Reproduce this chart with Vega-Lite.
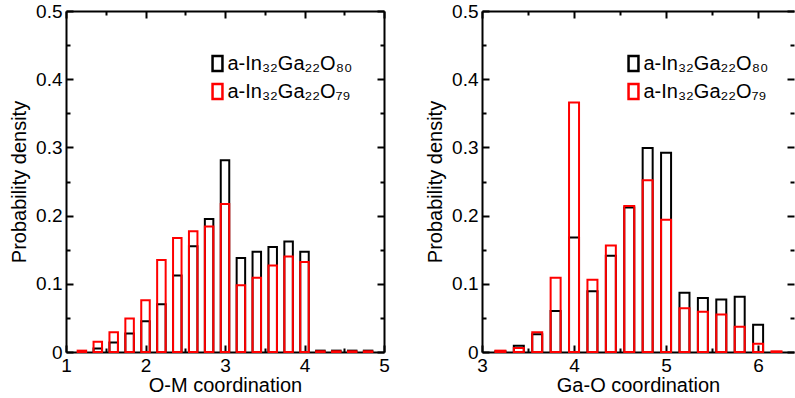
{
  "$schema": "https://vega.github.io/schema/vega-lite/v6.json",
  "padding": {"left": 9, "top": 2, "right": 0, "bottom": 0},
  "background": "white",
  "config": {
    "view": {"stroke": null},
    "font": "Liberation Sans",
    "axis": {"domainColor": "black", "domainWidth": 2, "tickColor": "black", "tickWidth": 2, "labelColor": "black", "titleColor": "black", "labelFontSize": 19, "titleFontSize": 20, "titleFontWeight": "normal", "grid": false, "labelFlush": false, "labelOverlap": false, "labelFont": "Liberation Sans", "titleFont": "Liberation Sans"},
    "legend": {"orient": "none", "legendX": 141.5, "legendY": 42.5, "title": null, "symbolType": "M-0.66,-1L0.66,-1L0.66,1L-0.66,1Z", "symbolSize": 225, "symbolStrokeWidth": 2.5, "symbolFillColor": "transparent", "labelFontSize": 20, "labelColor": "black", "labelFont": "Liberation Sans", "rowPadding": 2, "labelOffset": 0, "padding": 0}
  },
  "spacing": 35,
  "resolve": {"legend": {"stroke": "independent"}},
  "hconcat": [
    {
      "width": 318,
      "height": 341,
      "data": {"values": [
        {"series": "a-In₃₂Ga₂₂O₈₀", "coordination": 1.4, "density": 0.005},
        {"series": "a-In₃₂Ga₂₂O₈₀", "coordination": 1.6, "density": 0.014},
        {"series": "a-In₃₂Ga₂₂O₈₀", "coordination": 1.8, "density": 0.027},
        {"series": "a-In₃₂Ga₂₂O₈₀", "coordination": 2.0, "density": 0.045},
        {"series": "a-In₃₂Ga₂₂O₈₀", "coordination": 2.2, "density": 0.070},
        {"series": "a-In₃₂Ga₂₂O₈₀", "coordination": 2.4, "density": 0.112},
        {"series": "a-In₃₂Ga₂₂O₈₀", "coordination": 2.6, "density": 0.155},
        {"series": "a-In₃₂Ga₂₂O₈₀", "coordination": 2.8, "density": 0.195},
        {"series": "a-In₃₂Ga₂₂O₈₀", "coordination": 3.0, "density": 0.281},
        {"series": "a-In₃₂Ga₂₂O₈₀", "coordination": 3.2, "density": 0.138},
        {"series": "a-In₃₂Ga₂₂O₈₀", "coordination": 3.4, "density": 0.147},
        {"series": "a-In₃₂Ga₂₂O₈₀", "coordination": 3.6, "density": 0.154},
        {"series": "a-In₃₂Ga₂₂O₈₀", "coordination": 3.8, "density": 0.162},
        {"series": "a-In₃₂Ga₂₂O₈₀", "coordination": 4.0, "density": 0.147},
        {"series": "a-In₃₂Ga₂₂O₈₀", "coordination": 4.2, "density": 0.002},
        {"series": "a-In₃₂Ga₂₂O₈₀", "coordination": 4.4, "density": 0.002},
        {"series": "a-In₃₂Ga₂₂O₈₀", "coordination": 4.6, "density": 0.002},
        {"series": "a-In₃₂Ga₂₂O₈₀", "coordination": 4.8, "density": 0.002},
        {"series": "a-In₃₂Ga₂₂O₇₉", "coordination": 1.2, "density": 0.002},
        {"series": "a-In₃₂Ga₂₂O₇₉", "coordination": 1.4, "density": 0.015},
        {"series": "a-In₃₂Ga₂₂O₇₉", "coordination": 1.6, "density": 0.029},
        {"series": "a-In₃₂Ga₂₂O₇₉", "coordination": 1.8, "density": 0.049},
        {"series": "a-In₃₂Ga₂₂O₇₉", "coordination": 2.0, "density": 0.076},
        {"series": "a-In₃₂Ga₂₂O₇₉", "coordination": 2.2, "density": 0.135},
        {"series": "a-In₃₂Ga₂₂O₇₉", "coordination": 2.4, "density": 0.167},
        {"series": "a-In₃₂Ga₂₂O₇₉", "coordination": 2.6, "density": 0.177},
        {"series": "a-In₃₂Ga₂₂O₇₉", "coordination": 2.8, "density": 0.184},
        {"series": "a-In₃₂Ga₂₂O₇₉", "coordination": 3.0, "density": 0.217},
        {"series": "a-In₃₂Ga₂₂O₇₉", "coordination": 3.2, "density": 0.098},
        {"series": "a-In₃₂Ga₂₂O₇₉", "coordination": 3.4, "density": 0.109},
        {"series": "a-In₃₂Ga₂₂O₇₉", "coordination": 3.6, "density": 0.127},
        {"series": "a-In₃₂Ga₂₂O₇₉", "coordination": 3.8, "density": 0.140},
        {"series": "a-In₃₂Ga₂₂O₇₉", "coordination": 4.0, "density": 0.132},
        {"series": "a-In₃₂Ga₂₂O₇₉", "coordination": 4.2, "density": 0.001},
        {"series": "a-In₃₂Ga₂₂O₇₉", "coordination": 4.4, "density": 0.001},
        {"series": "a-In₃₂Ga₂₂O₇₉", "coordination": 4.6, "density": 0.001},
        {"series": "a-In₃₂Ga₂₂O₇₉", "coordination": 4.8, "density": 0.001}
      ]},
      "layer": [
        {
          "mark": {"type": "bar", "filled": false, "width": 8.5, "strokeWidth": 2},
          "encoding": {
            "x": {"field": "coordination", "type": "quantitative", "scale": {"domain": [1, 5], "nice": false, "zero": false, "padding": 0},
                  "axis": {"orient": "bottom", "values": [1, 2, 3, 4, 5], "tickSize": -7, "labelPadding": 11, "title": "O-M coordination", "format": "d", "titlePadding": 0}},
            "y": {"field": "density", "type": "quantitative", "stack": null, "scale": {"domain": [0, 0.5], "nice": false},
                  "axis": {"orient": "left", "values": [0, 0.1, 0.2, 0.3, 0.4, 0.5], "tickSize": -7, "labelPadding": 11, "title": "Probability density", "titlePadding": 6, "labelExpr": "datum.value == 0 ? '0' : format(datum.value, '.1f')"}},
            "stroke": {"field": "series", "type": "nominal", "scale": {"domain": ["a-In₃₂Ga₂₂O₈₀", "a-In₃₂Ga₂₂O₇₉"], "range": ["#000000", "#ff0000"]}}
          }
        },
        {
          "mark": {"type": "point", "opacity": 0},
          "encoding": {
            "x": {"field": "coordination", "type": "quantitative", "axis": {"orient": "bottom", "values": [1.5, 2.5, 3.5, 4.5], "tickSize": -4, "labels": false, "domain": false, "title": null}},
            "y": {"field": "density", "type": "quantitative", "axis": {"orient": "left", "values": [0.05, 0.15, 0.25, 0.35, 0.45], "tickSize": -4, "labels": false, "domain": false, "title": null}}
          }
        },
        {
          "mark": {"type": "point", "opacity": 0},
          "encoding": {
            "x": {"field": "coordination", "type": "quantitative", "axis": {"orient": "top", "values": [1, 2, 3, 4, 5], "tickSize": -7, "labels": false, "title": null}},
            "y": {"field": "density", "type": "quantitative", "axis": {"orient": "right", "values": [0, 0.1, 0.2, 0.3, 0.4, 0.5], "tickSize": -7, "labels": false, "title": null}}
          }
        },
        {
          "mark": {"type": "point", "opacity": 0},
          "encoding": {
            "x": {"field": "coordination", "type": "quantitative", "axis": {"orient": "top", "values": [1.5, 2.5, 3.5, 4.5], "tickSize": -4, "labels": false, "domain": false, "title": null}},
            "y": {"field": "density", "type": "quantitative", "axis": {"orient": "right", "values": [0.05, 0.15, 0.25, 0.35, 0.45], "tickSize": -4, "labels": false, "domain": false, "title": null}}
          }
        }
      ]
    },
    {
      "width": 312,
      "height": 341,
      "data": {"values": [
        {"series": "a-In₃₂Ga₂₂O₈₀", "coordination": 3.2, "density": 0.001},
        {"series": "a-In₃₂Ga₂₂O₈₀", "coordination": 3.4, "density": 0.009},
        {"series": "a-In₃₂Ga₂₂O₈₀", "coordination": 3.6, "density": 0.026},
        {"series": "a-In₃₂Ga₂₂O₈₀", "coordination": 3.8, "density": 0.060},
        {"series": "a-In₃₂Ga₂₂O₈₀", "coordination": 4.0, "density": 0.168},
        {"series": "a-In₃₂Ga₂₂O₈₀", "coordination": 4.2, "density": 0.089},
        {"series": "a-In₃₂Ga₂₂O₈₀", "coordination": 4.4, "density": 0.141},
        {"series": "a-In₃₂Ga₂₂O₈₀", "coordination": 4.6, "density": 0.212},
        {"series": "a-In₃₂Ga₂₂O₈₀", "coordination": 4.8, "density": 0.299},
        {"series": "a-In₃₂Ga₂₂O₈₀", "coordination": 5.0, "density": 0.292},
        {"series": "a-In₃₂Ga₂₂O₈₀", "coordination": 5.2, "density": 0.087},
        {"series": "a-In₃₂Ga₂₂O₈₀", "coordination": 5.4, "density": 0.079},
        {"series": "a-In₃₂Ga₂₂O₈₀", "coordination": 5.6, "density": 0.077},
        {"series": "a-In₃₂Ga₂₂O₈₀", "coordination": 5.8, "density": 0.081},
        {"series": "a-In₃₂Ga₂₂O₈₀", "coordination": 6.0, "density": 0.040},
        {"series": "a-In₃₂Ga₂₂O₇₉", "coordination": 3.2, "density": 0.002},
        {"series": "a-In₃₂Ga₂₂O₇₉", "coordination": 3.4, "density": 0.006},
        {"series": "a-In₃₂Ga₂₂O₇₉", "coordination": 3.6, "density": 0.029},
        {"series": "a-In₃₂Ga₂₂O₇₉", "coordination": 3.8, "density": 0.109},
        {"series": "a-In₃₂Ga₂₂O₇₉", "coordination": 4.0, "density": 0.366},
        {"series": "a-In₃₂Ga₂₂O₇₉", "coordination": 4.2, "density": 0.106},
        {"series": "a-In₃₂Ga₂₂O₇₉", "coordination": 4.4, "density": 0.156},
        {"series": "a-In₃₂Ga₂₂O₇₉", "coordination": 4.6, "density": 0.214},
        {"series": "a-In₃₂Ga₂₂O₇₉", "coordination": 4.8, "density": 0.252},
        {"series": "a-In₃₂Ga₂₂O₇₉", "coordination": 5.0, "density": 0.194},
        {"series": "a-In₃₂Ga₂₂O₇₉", "coordination": 5.2, "density": 0.064},
        {"series": "a-In₃₂Ga₂₂O₇₉", "coordination": 5.4, "density": 0.059},
        {"series": "a-In₃₂Ga₂₂O₇₉", "coordination": 5.6, "density": 0.055},
        {"series": "a-In₃₂Ga₂₂O₇₉", "coordination": 5.8, "density": 0.037},
        {"series": "a-In₃₂Ga₂₂O₇₉", "coordination": 6.0, "density": 0.012},
        {"series": "a-In₃₂Ga₂₂O₇₉", "coordination": 6.2, "density": 0.001}
      ]},
      "layer": [
        {
          "mark": {"type": "bar", "filled": false, "width": 10, "strokeWidth": 2},
          "encoding": {
            "x": {"field": "coordination", "type": "quantitative", "scale": {"domain": [3, 6.39], "nice": false, "zero": false, "padding": 0},
                  "axis": {"orient": "bottom", "values": [3, 4, 5, 6], "tickSize": -7, "labelPadding": 11, "title": "Ga-O coordination", "format": "d", "titlePadding": 0}},
            "y": {"field": "density", "type": "quantitative", "stack": null, "scale": {"domain": [0, 0.5], "nice": false},
                  "axis": {"orient": "left", "values": [0, 0.1, 0.2, 0.3, 0.4, 0.5], "tickSize": -7, "labelPadding": 11, "title": "Probability density", "titlePadding": 6, "labelExpr": "datum.value == 0 ? '0' : format(datum.value, '.1f')"}},
            "stroke": {"field": "series", "type": "nominal", "scale": {"domain": ["a-In₃₂Ga₂₂O₈₀", "a-In₃₂Ga₂₂O₇₉"], "range": ["#000000", "#ff0000"]}}
          }
        },
        {
          "mark": {"type": "point", "opacity": 0},
          "encoding": {
            "x": {"field": "coordination", "type": "quantitative", "axis": {"orient": "bottom", "values": [3.5, 4.5, 5.5], "tickSize": -4, "labels": false, "domain": false, "title": null}},
            "y": {"field": "density", "type": "quantitative", "axis": {"orient": "left", "values": [0.05, 0.15, 0.25, 0.35, 0.45], "tickSize": -4, "labels": false, "domain": false, "title": null}}
          }
        },
        {
          "mark": {"type": "point", "opacity": 0},
          "encoding": {
            "x": {"field": "coordination", "type": "quantitative", "axis": {"orient": "top", "values": [3, 4, 5, 6], "tickSize": -7, "labels": false, "title": null}},
            "y": {"field": "density", "type": "quantitative", "axis": {"orient": "right", "values": [0, 0.1, 0.2, 0.3, 0.4, 0.5], "tickSize": -7, "labels": false, "domain": false, "title": null}}
          }
        },
        {
          "mark": {"type": "point", "opacity": 0},
          "encoding": {
            "x": {"field": "coordination", "type": "quantitative", "axis": {"orient": "top", "values": [3.5, 4.5, 5.5], "tickSize": -4, "labels": false, "domain": false, "title": null}},
            "y": {"field": "density", "type": "quantitative", "axis": {"orient": "right", "values": [0.05, 0.15, 0.25, 0.35, 0.45], "tickSize": -4, "labels": false, "domain": false, "title": null}}
          }
        }
      ]
    }
  ]
}
